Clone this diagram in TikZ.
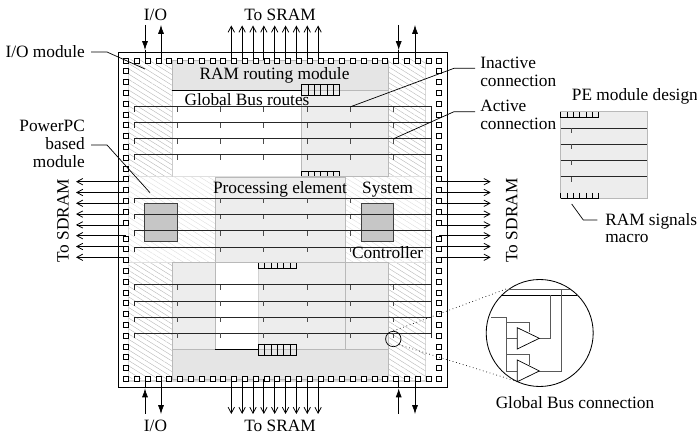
\documentclass[tikz,border=0pt]{standalone}
\usepackage{fontspec}
\setmainfont{Liberation Serif}
\usetikzlibrary{arrows.meta,patterns.meta}

\newcommand{\macrocells}[3]{%
  \foreach \k in {0,...,6} \draw[cell] ({#1+\k*6.35},#2) -- ({#1+\k*6.35},#3);}

\begin{document}
\begin{tikzpicture}[
  x=0.25mm,y=-0.25mm,
  every node/.style={font=\fontsize{12.3pt}{11.9pt}\selectfont,inner sep=0pt},
  txt/.style={text height=10pt,text depth=2pt},
  pad/.style={draw,fill=white,line width=.5pt,minimum size=3.6pt,inner sep=0pt},
  bus/.style={line width=.55pt,black!85},
  tick/.style={line width=.55pt,black!70},
  cell/.style={line width=.5pt,black},
  leader/.style={line width=.5pt},
  module/.style={draw=gray!55,line width=.7pt,fill=gray!14},
  ram/.style={draw=gray!55,line width=.7pt,fill=gray!20},
  hatch/.style={pattern={Lines[angle=-32,distance=3.2pt,line width=.3pt]},pattern color=gray!55},
  lighthatch/.style={pattern={Lines[angle=-32,distance=3.2pt,line width=.3pt]},pattern color=gray!25},
  block/.style={draw=black!75,line width=.7pt,fill=gray!45},
  solidarr/.style={-{Latex[length=2.2mm,width=1.5mm]},line width=.5pt},
  openarr/.style={-{Straight Barb[length=1.5mm,width=1.6mm]},line width=.55pt},
  gate/.style={line width=.7pt,black!65}]
  \path[use as bounding box] (0,0) rectangle (697,434);

  % Chip outline and side strips
  \draw[line width=.7pt] (118,52.5) rectangle (447,387);
  \draw[gray!30,line width=.8pt] (128.5,60) -- (128.5,381) -- (425.7,381) -- (425.7,60);

  % I/O modules in the corners
  \fill[hatch] (128.5,60) rectangle (172,176.5);
  \fill[hatch] (388,60) rectangle (425.7,176.5);
  \fill[hatch] (128.5,263) rectangle (172,379);
  \fill[hatch] (388,263) rectangle (425.7,379);

  % PowerPC band and processing element
  \draw[gray!25,line width=.7pt] (128.5,176.7) -- (433,176.7);
  \draw[gray!25,line width=.7pt] (128.5,262.7) -- (433,262.7);
  \fill[lighthatch] (128.5,177) rectangle (215,262.5);
  \fill[lighthatch] (345,177) rectangle (433,262.5);
  \draw[module] (215,177) rectangle (345,262.7);

  % Upper and lower modules
  \draw[gray!40,line width=.7pt] (172,90) -- (172,176.7);
  \draw[module] (301.5,90) rectangle (388,176.7);
  \draw[module] (172,262.7) rectangle (215,349);
  \fill[gray!14] (258.3,262.7) rectangle (345,349);
  \draw[gray!55,line width=.7pt] (258.3,349) -- (345,349);
  \draw[gray!35,line width=.7pt] (258.3,262.7) -- (258.3,349);
  \draw[gray!55,line width=.7pt] (215,262.7) -- (215,349);
  \draw[module] (345,262.7) rectangle (388,349);
  \draw[ram] (172,60) rectangle (388,90);
  \draw[ram] (172,349) rectangle (388,379);
  \draw[line width=.6pt] (172,90) -- (301.5,90);
  \draw[line width=.6pt] (215,349) -- (258.3,349);

  % RAM signals macros
  \draw[cell] (301.5,84.5) rectangle (339.5,95.5);
  \macrocells{301.5}{84.5}{95.5}
  \draw[cell] (301.5,171.3) -- (339.5,171.3);
  \macrocells{301.5}{171.3}{176.3}
  \draw[cell] (258.3,268) -- (296.5,268);
  \macrocells{258.3}{263}{268}
  \draw[cell] (258.3,344) rectangle (296.5,355);
  \macrocells{258.3}{344}{355}

  % Global Bus routes
  \draw[bus] (431.7,106.7) -- (431.7,338);
  \foreach \y in {106.7,122.7,138.7,154.7,284.7,301,317,333.3} {
    \draw[bus] (134.3,\y+5) -- (134.3,\y) -- (431.7,\y);
    \foreach \x in {177.3,220.3,263.7,307,350.3,393.7}
      \draw[tick] (\x,\y) -- (\x,\y+5);
  }
  \foreach \y in {198.3,214.3,230.7,247} {
    \draw[bus] (134.3,\y+5) -- (134.3,\y) -- (431.7,\y);
    \foreach \x in {220.3,263.7,307,350.3}
      \draw[tick] (\x,\y) -- (\x,\y+5);
  }

  % Blocks under the buses of the middle band
  \draw[block] (144.7,203.3) rectangle (177.3,241.3);
  \draw[block] (361,203.3) rectangle (393.7,241.3);
  \foreach \y in {214.3,230.7} \draw[bus] (134.3,\y) -- (431.7,\y);

  % Pads
  \foreach \i in {0,...,29} {
    \node[pad] (padt\i) at ({126+\i*10.8},60.5) {};
    \node[pad] (padb\i) at ({126+\i*10.8},379) {};
  }
  \foreach \i in {1,...,15} {
    \node[pad] (padl\i) at (126,{60.5+\i*10.8}) {};
    \node[pad] (padr\i) at (439.3,{60.5+\i*10.8}) {};
  }
  \foreach \i in {0,...,12} {
    \node[pad] (padls\i) at (126,{238.5+\i*10.8}) {};
    \node[pad] (padrs\i) at (439.3,{238.5+\i*10.8}) {};
  }

  % SRAM and SDRAM connections
  \foreach \i in {0,...,8} {
    \coordinate (srt\i) at ({231.3+\i*10.85},60);
    \coordinate (sre\i) at ({231.3+\i*10.85},25.5);
    \coordinate (srb\i) at ({231.3+\i*10.85},379);
    \coordinate (srf\i) at ({231.3+\i*10.85},414);
    \draw[openarr] (srt\i) -- (sre\i);
    \draw[openarr] (srb\i) -- (srf\i);
  }
  \foreach \i in {0,...,7} {
    \coordinate (sdl\i) at (126,{181.7+\i*10.8});
    \coordinate (sdm\i) at (76,{181.7+\i*10.8});
    \coordinate (sdr\i) at (439.3,{181.7+\i*10.8});
    \coordinate (sds\i) at (490.7,{181.7+\i*10.8});
    \draw[openarr] (sdl\i) -- (sdm\i);
    \draw[openarr] (sdr\i) -- (sds\i);
  }

  % I/O connections
  \foreach \x/\v in {145/1,398.7/2} {
    \coordinate (iota\v) at (\x,25);
    \coordinate (iotb\v) at (\x,50);
    \coordinate (iotc\v) at (\x,58);
    \draw[solidarr] (iota\v) -- (iotb\v);
    \draw[line width=.5pt] (iotb\v) -- (iotc\v);
    \coordinate (ioba\v) at (\x,414);
    \coordinate (iobb\v) at (\x,388.5);
    \coordinate (iobc\v) at (\x,381);
    \draw[solidarr] (ioba\v) -- (iobb\v);
    \draw[line width=.5pt] (iobb\v) -- (iobc\v);
  }
  \foreach \x/\v in {161/1,415/2} {
    \coordinate (uota\v) at (\x,58);
    \coordinate (uotb\v) at (\x,25);
    \draw[solidarr] (uota\v) -- (uotb\v);
    \coordinate (uoba\v) at (\x,381);
    \coordinate (uobb\v) at (\x,414);
    \draw[solidarr] (uoba\v) -- (uobb\v);
  }

  % Labels
  \node[txt] (iotop) at (155.5,14.7) {I/O};
  \node[txt] (sramtop) at (280,14.7) {To SRAM};
  \node[txt] (iobot) at (155.5,425.7) {I/O};
  \node[txt] (srambot) at (280,425.7) {To SRAM};
  \node[txt] (ramrouting) at (274.5,74) {RAM routing module};
  \node[txt] (busroutes) at (247,100) {Global Bus routes};
  \node[txt] (procelem) at (280,187.7) {Processing element};
  \node[txt] (system) at (387.7,187.7) {System};
  \node[txt] (controller) at (387.7,252.7) {Controller};
  \node[txt,rotate=90] (sdramleft) at (63,221) {To SDRAM};
  \node[txt,rotate=90] (sdramright) at (511.7,220.5) {To SDRAM};
  \node[txt,anchor=west] (pedesign) at (571.7,95) {PE module design};
  \node[txt,anchor=center] (busconn) at (575,402.7) {Global Bus connection};

  % Labels with leaders
  \node[txt,anchor=east,inner xsep=4.2pt] (iomodule) at (91,52) {I/O module};
  \coordinate (iomoduleend) at (145,69);
  \draw[leader] (iomodule.east) -- (107,52) -- (iomoduleend);
  \node[anchor=east,align=right,inner xsep=4.2pt] (ppc) at (91,144) {PowerPC\\[1.1pt]based\\[1.1pt]module};
  \coordinate (ppcend) at (150,192.7);
  \draw[leader] (91,145) -- (107,145) -- (ppcend);
  \node[anchor=west,align=left] (inactive) at (480,72) {Inactive\\[.4pt]connection};
  \coordinate (inactiveend) at (350.7,106.7);
  \draw[leader] (475,68.3) -- (454,68.3) -- (inactiveend);
  \node[anchor=west,align=left] (active) at (480,115) {Active\\[.4pt]connection};
  \coordinate (activeend) at (393.7,138.7);
  \draw[leader] (475,111.7) -- (454,111.7) -- (activeend);

  % PE module design
  \draw[module] (560.7,111.7) rectangle (647.3,198.3);
  \foreach \y in {128.3,144.3,160.3,176.7} {
    \draw[bus] (560.7,\y) -- (647.3,\y);
    \draw[tick] (571.7,\y) -- (571.7,\y+5);
  }
  \draw[cell] (560.7,117.7) -- (599,117.7);
  \macrocells{560.7}{112.5}{117.7}
  \draw[cell] (560.7,198.3) -- (599,198.3);
  \macrocells{560.7}{193}{198.3}
  \node[anchor=west,align=left] (ramsignals) at (605,228) {RAM signals\\[.4pt]macro};
  \coordinate (ramsignalsend) at (571.7,204);
  \draw[leader] (597.3,220) -- (583.3,220) -- (ramsignalsend);

  % Global Bus connection, magnified
  \node[draw,circle,line width=.5pt,minimum size=15.4*0.25mm] (lens) at (393.3,339) {};
  \node[draw,circle,line width=.6pt,minimum size=107*0.25mm] (bigcircle) at (539.7,333) {};
  \coordinate (dota) at (508,288.3);
  \coordinate (dotb) at (518,381.7);
  \draw[dotted,line width=.5pt] (lens.north) -- (dota);
  \draw[dotted,line width=.5pt] (lens.south east) -- (dotb);
  \draw[gate] (508,289.7) -- (570,289.7);
  \draw[line width=.7pt] (500.7,295) -- (577,295);
  \draw[gate] (491,317.3) -- (506.7,317.3) -- (506.7,371) -- (517.3,371);
  \draw[gate] (506.7,322.3) -- (529,322.3) -- (529,332);
  \draw[gate] (506.7,338.3) -- (517.3,338.3);
  \draw[gate] (506.7,354.3) -- (529,354.3) -- (529,365);
  \draw[gate] (539.3,338.3) -- (550,338.3) -- (550,295);
  \draw[gate] (539.3,371) -- (561,371) -- (561,289.7);
  \draw[line width=.5pt,fill=white] (517.3,327.7) -- (517.3,349) -- (539.3,338.3) -- cycle;
  \draw[line width=.5pt,fill=white] (517.3,360) -- (517.3,381.7) -- (539.3,371) -- cycle;
\end{tikzpicture}
\end{document}
